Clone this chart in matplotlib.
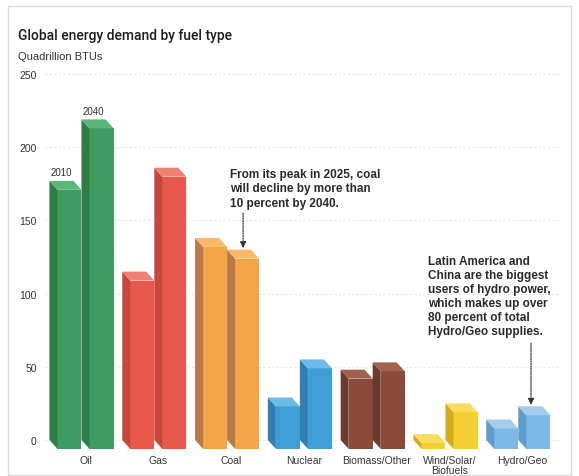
import matplotlib
matplotlib.use("Agg")
import matplotlib.pyplot as plt
from matplotlib.patches import Polygon, Rectangle

# ---- data ----
categories = ["Oil", "Gas", "Coal", "Nuclear", "Biomass/Other", "Wind/Solar/\nBiofuels", "Hydro/Geo"]
years = ["2010", "2040"]
values_2010 = [177, 115, 138, 29, 48, 4, 14]
values_2040 = [219, 186, 130, 55, 53, 25, 23]
yticks = [0, 50, 100, 150, 200, 250]

front_colors = ["#3f9c60", "#e8594c", "#f4a547", "#3d9fd6", "#8a4b3c", "#f4cf33", "#7db8e6"]
side_colors = ["#2f7d49", "#c8473d", "#b87a46", "#2e80b4", "#6b3a2e", "#d3ab1f", "#5e9ccc"]
top_colors = ["#5cb67a", "#ee8074", "#f7b967", "#6cbbe6", "#a0614f", "#f8dd5c", "#a2cdef"]

title = "Global energy demand by fuel type"
subtitle = "Quadrillion BTUs"
note_coal = "From its peak in 2025, coal\nwill decline by more than\n10 percent by 2040."
note_hydro = ("Latin America and\nChina are the biggest\nusers of hydro power,\n"
              "which makes up over\n80 percent of total\nHydro/Geo supplies.")

# ---- figure ----
W, H = 579, 477
fig = plt.figure(figsize=(W / 100, H / 100), dpi=100)
fig.patch.set_facecolor("white")

# frame
fig.add_artist(Rectangle((8 / W, 1 - 476 / H), (571 - 8) / W, (476 - 7) / H,
                         transform=fig.transFigure, fill=False, ec="#dcdcdc", lw=1))

ax = fig.add_axes([45 / W, 21.4 / H, (560 - 45) / W, (409.3 - 21.4) / H])
ax.set_xlim(-0.556, 6.518)
ax.set_ylim(-10, 255)
for s in ax.spines.values():
    s.set_visible(False)

for yv in yticks:
    ax.axhline(yv, color="#e6e6e6", lw=0.8, ls=(0, (2, 2)), zorder=0)

w = 0.33
dx = 0.11
dy = 6.1
offsets = [-0.385, 0.055]

for i in range(len(categories)):
    for j, vals in enumerate([values_2010, values_2040]):
        v = vals[i]
        fl = i + offsets[j]
        z = 2 + i * 2 + j
        ax.bar(fl, v, width=w, bottom=-dy, align="edge", color=front_colors[i],
               edgecolor="none", zorder=z)
        side = Polygon([(fl - dx, 0), (fl, -dy), (fl, v - dy), (fl - dx, v)],
                       closed=True, fc=side_colors[i], ec="none", zorder=z)
        top = Polygon([(fl, v - dy), (fl + w, v - dy), (fl + w - dx, v), (fl - dx, v)],
                      closed=True, fc=top_colors[i], ec="none", zorder=z)
        ax.add_patch(side)
        ax.add_patch(top)
        if i == 0:
            ax.text(fl - dx + w / 2, v + 2.5, years[j], ha="center", va="bottom",
                    fontsize=7, color="#333333", family="Liberation Sans")

ax.set_yticks(yticks)
ax.set_yticklabels([str(t) for t in yticks], fontsize=7.5, color="#333333",
                   family="Liberation Sans")
ax.set_xticks(range(len(categories)))
ax.set_xticklabels(categories, fontsize=7.5, color="#333333", family="Liberation Sans",
                   linespacing=1.0)
ax.tick_params(axis="both", length=0)
ax.tick_params(axis="x", pad=0)
ax.tick_params(axis="y", pad=6)

# annotations
ci = 2
ax.annotate("", xy=(ci + 0.165, values_2040[ci] + 1), xytext=(ci + 0.165, 155),
            arrowprops=dict(arrowstyle="-|>", linestyle=(0, (1, 1)), color="#333333",
                            lw=0.9, shrinkA=0, shrinkB=0, mutation_scale=9), zorder=30)
ax.text(1.98, 158, note_coal, ha="left", va="bottom", fontsize=8.5, fontweight="bold",
        color="#2a2a2a", family="Liberation Sans", linespacing=1.25)

hi = 6
ax.annotate("", xy=(hi + 0.12, values_2040[hi] + 1), xytext=(hi + 0.12, 66),
            arrowprops=dict(arrowstyle="-|>", linestyle=(0, (1, 1)), color="#333333",
                            lw=0.9, shrinkA=0, shrinkB=0, mutation_scale=9), zorder=30)
ax.text(4.71, 70.5, note_hydro, ha="left", va="bottom", fontsize=8.5, fontweight="bold",
        color="#2a2a2a", family="Liberation Sans", linespacing=1.22)

fig.text(18 / W, 1 - 36 / H, title, ha="left", va="center", fontsize=10,
         fontweight="medium", color="#1e1e1e", family="Roboto")
fig.text(18 / W, 1 - 57 / H, subtitle, ha="left", va="center", fontsize=8,
         color="#333333", family="Liberation Sans")

fig.savefig("out.png", dpi=100, facecolor="white")
